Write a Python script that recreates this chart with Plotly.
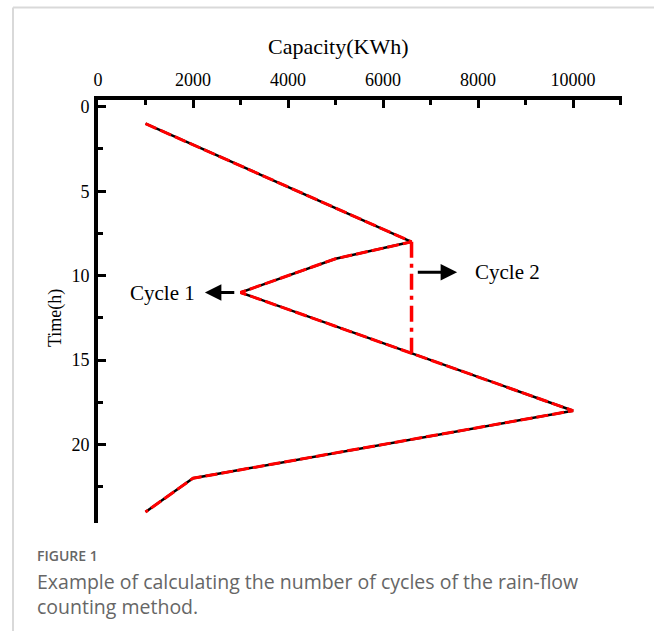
import plotly.graph_objects as go

# Data
capacity = [1000, 6600, 5000, 3000, 10000, 2000, 1000]   # KWh
time_h = [1, 8, 9, 11, 18, 22, 24]                        # h
cycle2_capacity = [6600, 6600]
cycle2_time = [8, 14.6]

x_ticks = [0, 2000, 4000, 6000, 8000, 10000]
y_ticks = [0, 5, 10, 15, 20]

x_title = "Capacity(KWh)"
y_title = "Time(h)"

W, H = 654, 631
L, R, T, B = 98, 32, 100, 108
PW, PH = W - L - R, H - T - B


def px(xp):
    return (xp - L) / PW


def py(yp):
    return (H - B - yp) / PH


SERIF = "Liberation Serif, Times New Roman, serif"
SANS = "Open Sans, Noto Sans, sans-serif"

fig = go.Figure()
fig.add_trace(go.Scatter(x=capacity, y=time_h, mode="lines",
                         line=dict(color="black", width=2.5), showlegend=False,
                         hoverinfo="skip"))
fig.add_trace(go.Scatter(x=capacity, y=time_h, mode="lines",
                         line=dict(color="#ff0000", width=3, dash="12px,4px"),
                         showlegend=False))
fig.add_trace(go.Scatter(x=cycle2_capacity, y=cycle2_time, mode="lines",
                         line=dict(color="#ff0000", width=3.5, dash="16px,6px,4px,6px"),
                         showlegend=False))

# Arrows and labels
fig.add_annotation(x=7560, y=9.8, ax=6700, ay=9.8, xref="x", yref="y", axref="x", ayref="y",
                   showarrow=True, arrowhead=2, arrowsize=1.1, arrowwidth=3, arrowcolor="black", text="")
fig.add_annotation(x=2250, y=11, ax=2900, ay=11, xref="x", yref="y", axref="x", ayref="y",
                   showarrow=True, arrowhead=2, arrowsize=1.1, arrowwidth=3, arrowcolor="black", text="")
fig.add_annotation(x=7900, y=9.8, xref="x", yref="y", text="Cycle 2", showarrow=False,
                   xanchor="left", yanchor="middle", font=dict(family=SERIF, size=21, color="black"))
fig.add_annotation(x=2080, y=11, xref="x", yref="y", text="Cycle 1", showarrow=False,
                   xanchor="right", yanchor="middle", font=dict(family=SERIF, size=21, color="black"))

# Axis titles
fig.add_annotation(x=px(338), y=py(47), xref="paper", yref="paper", text=x_title,
                   showarrow=False, xanchor="center", yanchor="middle",
                   font=dict(family=SERIF, size=22, color="black"))
fig.add_annotation(x=px(55), y=py(318), xref="paper", yref="paper", text=y_title,
                   showarrow=False, xanchor="center", yanchor="middle", textangle=-90,
                   font=dict(family=SERIF, size=18, color="black"))

# Caption
fig.add_annotation(x=px(36), y=py(555), xref="paper", yref="paper", text="FIGURE 1",
                   showarrow=False, xanchor="left", yanchor="middle", borderpad=0,
                   font=dict(family=SANS, size=14, color="#666666", weight=600))
fig.add_annotation(x=px(36), y=py(594), xref="paper", yref="paper",
                   text="Example of calculating the number of cycles of the rain-flow<br>counting method.",
                   showarrow=False, xanchor="left", yanchor="middle", align="left", borderpad=0,
                   font=dict(family=SANS, size=19.5, color="#666666"))

# Card border
fig.add_shape(type="line", xref="paper", yref="paper", x0=px(13), x1=px(13), y0=py(7.5), y1=py(640),
              line=dict(color="#d9d9d9", width=2))
fig.add_shape(type="line", xref="paper", yref="paper", x0=px(13), x1=px(660), y0=py(7.5), y1=py(7.5),
              line=dict(color="#d9d9d9", width=2))

fig.update_layout(
    width=W, height=H,
    margin=dict(l=L, r=R, t=T, b=B, autoexpand=False),
    paper_bgcolor="white", plot_bgcolor="white",
    xaxis=dict(
        side="top", range=[0, 11030], tickvals=x_ticks,
        ticktext=[str(v) for v in x_ticks],
        ticks="inside", ticklen=8, tickwidth=3, tickcolor="black",
        minor=dict(ticks="inside", ticklen=5, tickwidth=3, tickcolor="black", dtick=1000, tick0=0),
        showline=True, linewidth=4, linecolor="black", mirror=False,
        showgrid=False, zeroline=False,
        tickfont=dict(family=SERIF, size=18, color="black"),
        ticklabelstandoff=3,
    ),
    yaxis=dict(
        range=[24.65, -0.4], tickvals=y_ticks,
        ticks="inside", ticklen=8, tickwidth=3, tickcolor="black",
        minor=dict(ticks="inside", ticklen=5, tickwidth=3, tickcolor="black", dtick=2.5, tick0=0),
        showline=True, linewidth=4, linecolor="black", mirror=False,
        showgrid=False, zeroline=False,
        tickfont=dict(family=SERIF, size=18, color="black"),
        ticklabelstandoff=1,
    ),
)

fig.write_html("out.html")
